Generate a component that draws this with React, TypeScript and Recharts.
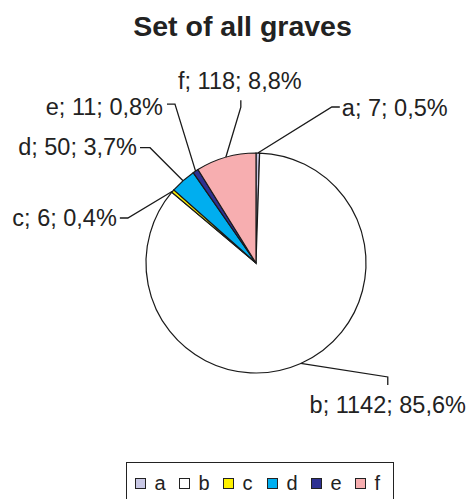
import React from "react";
import { Cell, Pie, PieChart } from "recharts";

const categories = ["a", "b", "c", "d", "e", "f"];
const counts = [7, 1142, 6, 50, 11, 118];
const sliceColors = ["#C9C8E5", "#FFFFFF", "#FFF200", "#00AEEF", "#2E3192", "#F7AEB0"];

const graves = categories.map((name, i) => ({ name, value: counts[i] }));

// leader line shape per slice: elbow offset from the arc point, short tail, text placement
const labelLayout = [
  { elbow: [74, -46], tail: [8, 0], anchor: "start", tx: 2, ty: 1, base: "central" },
  { elbow: [87, 13.5], tail: [0, 8], anchor: "middle", tx: 0, ty: 28, base: "auto" },
  { elbow: [-45, 27], tail: [-8, 0], anchor: "end", tx: -3, ty: 0, base: "central" },
  { elbow: [-33, -33], tail: [-10, 0], anchor: "end", tx: -3, ty: -1, base: "central" },
  { elbow: [-20.6, -67], tail: [-8, 0], anchor: "end", tx: -4, ty: 3, base: "central" },
  { elbow: [15, -50], tail: [0, -7], anchor: "middle", tx: -1, ty: -11, base: "auto" },
];

const FONT = "'Liberation Sans', Arial, sans-serif";
const RAD = Math.PI / 180;
const fmtPct = (p: number) => (p * 100).toFixed(1).replace(".", ",") + "%";

function renderLabel(props: any) {
  const { cx, cy, midAngle, outerRadius, index, percent, name, value } = props;
  const lay = labelLayout[index];
  const x0 = cx + outerRadius * Math.cos(-midAngle * RAD);
  const y0 = cy + outerRadius * Math.sin(-midAngle * RAD);
  const x1 = x0 + lay.elbow[0];
  const y1 = y0 + lay.elbow[1];
  const x2 = x1 + lay.tail[0];
  const y2 = y1 + lay.tail[1];
  return (
    <g key={`lbl-${index}`}>
      <polyline points={`${x0},${y0} ${x1},${y1} ${x2},${y2}`} fill="none" stroke="#1a1a1a" strokeWidth={1.3} />
      <text
        x={x2 + lay.tx}
        y={y2 + lay.ty}
        textAnchor={lay.anchor as any}
        dominantBaseline={lay.base as any}
        fill="#222"
        fontSize={23.5}
        fontFamily={FONT}
      >
        {`${name}; ${value}; ${fmtPct(percent)}`}
      </text>
    </g>
  );
}

function LegendBox() {
  return (
    <div
      style={{
        position: "absolute",
        left: 126,
        top: 462,
        boxSizing: "border-box",
        width: 268,
        height: 50,
        border: "1.5px solid #222",
        paddingLeft: 7.5,
        paddingTop: 10,
        display: "flex",
        fontFamily: FONT,
        fontSize: 20,
        lineHeight: "20px",
        color: "#222",
      }}
    >
      {categories.map((c, i) => (
        <div key={c} style={{ width: 44, flex: "none", display: "flex", alignItems: "center", height: 20 }}>
          <span style={{ width: 9, height: 9, border: "1px solid #222", background: sliceColors[i], display: "inline-block" }} />
          <span style={{ marginLeft: 9 }}>{c}</span>
        </div>
      ))}
    </div>
  );
}

export default function App() {
  return (
    <div style={{ position: "relative", width: 470, height: 499, overflow: "hidden", background: "#fff" }}>
      <style>{"body{margin:0}"}</style>
      <PieChart width={470} height={499} margin={{ top: 0, right: 0, bottom: 0, left: 0 }}>
        <Pie
          data={graves}
          dataKey="value"
          nameKey="name"
          cx={256}
          cy={263}
          outerRadius={110}
          startAngle={90}
          endAngle={-270}
          stroke="#1a1a1a"
          strokeWidth={1.2}
          label={renderLabel}
          labelLine={false}
          isAnimationActive={false}
        >
          {graves.map((g, i) => (
            <Cell key={g.name} fill={sliceColors[i]} />
          ))}
        </Pie>
      </PieChart>
      <div
        style={{
          position: "absolute",
          left: 92.5,
          top: 12,
          width: 300,
          textAlign: "center",
          fontFamily: FONT,
          fontWeight: "bold",
          fontSize: 28.5,
          lineHeight: "28px",
          color: "#222",
          whiteSpace: "nowrap",
        }}
      >
        Set of all graves
      </div>
      <LegendBox />
    </div>
  );
}
